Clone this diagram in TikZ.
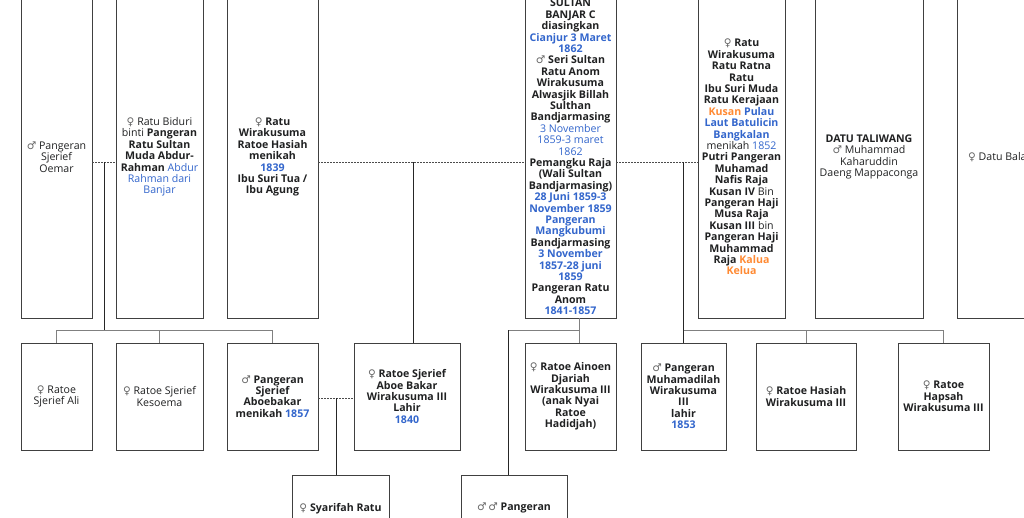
\documentclass[tikz,border=0pt]{standalone}
\usepackage{fontspec}
\setmainfont{Open Sans}
\newfontfamily\symfont{DejaVu Sans}
\usetikzlibrary{calc, positioning}

\definecolor{ink}{HTML}{202122}
\definecolor{linkblue}{HTML}{3366CC}
\definecolor{linkorange}{HTML}{FF8A33}
\newcommand{\gm}{{\symfont\mdseries\color{black!60}♂}}
\newcommand{\gf}{{\symfont\mdseries\color{black!60}♀}}
\newcommand{\lb}[1]{\textcolor{linkblue}{#1}}
\newcommand{\lo}[1]{\textcolor{linkorange}{#1}}

\begin{document}
\begin{tikzpicture}[
        x=1pt, y=-1pt,
        font=\fontsize{10.6}{11.4}\selectfont, text=ink,
        person/.style={draw=black!75, line width=0.8pt, fill=white, rectangle, align=center, inner xsep=1pt, inner ysep=1pt},
        bold/.style={font=\fontsize{10.6}{11.4}\selectfont\bfseries},
        toprow/.style={person, minimum height=322pt},
        midrow/.style={person, minimum height=107pt},
        lowrow/.style={person, minimum height=130pt, anchor=north},
        couple/.style={black!70, line width=0.7pt, dash pattern=on 2pt off 1pt},
        descent/.style={black!85, line width=0.7pt},
        bus/.style={black!50, line width=0.8pt}
    ]
    \useasboundingbox (0,0) rectangle (1024,517);
    \clip (0,0) rectangle (1024,517);

    % Top row (parents and spouses)
    \node[toprow, minimum width=71pt] (oemar) at (56.5,157) {\gm{} Pangeran\\Sjerief\\Oemar};
    \node[toprow, minimum width=87pt] (biduri) at (159.5,157) {\gf{} Ratu Biduri\\binti \textbf{Pangeran}\\\textbf{Ratu Sultan}\\\textbf{Muda Abdur-}\\\textbf{Rahman} \lb{Abdur}\\\lb{Rahman dari}\\\lb{Banjar}};
    \node[toprow, bold, minimum width=91pt] (hasiah) at (272.5,157) {\gf{} Ratu\\Wirakusuma\\Ratoe Hasiah\\menikah\\\lb{1839}\\Ibu Suri Tua /\\Ibu Agung};
    \node[toprow, bold, minimum width=91pt] (sultan) at (570.5,157) {SULTAN\\BANJAR C\\diasingkan\\\lb{Cianjur 3 Maret}\\\lb{1862}\\\gm{} Seri Sultan\\Ratu Anom\\Wirakusuma\\Alwasjik Billah\\Sulthan\\Bandjarmasing\\{\mdseries\lb{3 November}}\\{\mdseries\lb{1859-3 maret}}\\{\mdseries\lb{1862}}\\Pemangku Raja\\(Wali Sultan\\Bandjarmasing)\\\lb{28 Juni 1859-3}\\\lb{November 1859}\\\lb{Pangeran}\\\lb{Mangkubumi}\\Bandjarmasing\\\lb{3 November}\\\lb{1857-28 juni}\\\lb{1859}\\Pangeran Ratu\\Anom\\\lb{1841-1857}};
    \node[toprow, bold, minimum width=87pt] (ratna) at (741.5,157) {\gf{} Ratu\\Wirakusuma\\Ratu Ratna\\Ratu\\Ibu Suri Muda\\Ratu Kerajaan\\\lo{Kusan} \lb{Pulau}\\\lb{Laut Batulicin}\\\lb{Bangkalan}\\{\mdseries menikah \lb{1852}}\\Putri Pangeran\\Muhamad\\Nafis Raja\\Kusan IV {\mdseries Bin}\\Pangeran Haji\\Musa Raja\\Kusan III {\mdseries bin}\\Pangeran Haji\\Muhammad\\Raja \lo{Kalua}\\\lo{Kelua}};
    \node[toprow, minimum width=108pt] (taliwang) at (869,157) {\textbf{DATU TALIWANG}\\\gm{} Muhammad\\Kaharuddin\\Daeng Mappaconga};
    \node[toprow, minimum width=110pt] (balas) at (1012,157) {};
    \node[anchor=west] (balas-t) at ([xshift=8pt]balas.west) {\gf{} Datu Bala};

    % Second row (children)
    \node[midrow, minimum width=71pt] (ali) at (56.5,396.5) {\gf{} Ratoe\\Sjerief Ali};
    \node[midrow, minimum width=87pt] (kesoema) at (159.5,396.5) {\gf{} Ratoe Sjerief\\Kesoema};
    \node[midrow, bold, minimum width=91pt] (aboebakar) at (272.5,396.5) {\gm{} Pangeran\\Sjerief\\Aboebakar\\menikah \lb{1857}};
    \node[midrow, bold, minimum width=106pt] (abubakar) at (407,396.5) {\gf{} Ratoe Sjerief\\Aboe Bakar\\Wirakusuma III\\Lahir\\\lb{1840}};
    \node[midrow, bold, minimum width=91pt] (ainoen) at (570.5,396.5) {\gf{} Ratoe Ainoen\\Djariah\\Wirakusuma III\\(anak Nyai\\Ratoe\\Hadidjah)};
    \node[midrow, bold, minimum width=85pt] (muhamadilah) at (683.5,396.5) {\gm{} Pangeran\\Muhamadilah\\Wirakusuma\\III\\lahir\\\lb{1853}};
    \node[midrow, bold, minimum width=100pt] (hasiah3) at (806,396.5) {\gf{} Ratoe Hasiah\\Wirakusuma III};
    \node[midrow, bold, minimum width=91pt] (hapsah) at (943.5,396.5) {\gf{} Ratoe\\Hapsah\\Wirakusuma III};

    % Third row (grandchildren)
    \node[lowrow, minimum width=97pt] (syarifah) at (340.5,475) {};
    \node[bold, anchor=base] (syarifah-t) at ($(syarifah.north)+(0,36)$) {\gf{} Syarifah Ratu};
    \node[lowrow, minimum width=106pt] (pangeran) at (514,475) {};
    \node[bold, anchor=base] (pangeran-t) at ($(pangeran.north)+(0,35)$) {\gm\,\gm{} Pangeran};

    % Marriages
    \draw[couple] ([yshift=-5pt]oemar.east) -- ([yshift=-5pt]biduri.west);
    \draw[couple] ([yshift=-5pt]hasiah.east) -- ([yshift=-5pt]sultan.west);
    \draw[couple] ([yshift=-5pt]sultan.east) -- ([yshift=-5pt]ratna.west);
    \draw[couple] ([yshift=-1.5pt]aboebakar.east) -- ([yshift=-1.5pt]abubakar.west);

    % Descent lines
    \coordinate (m1) at ($(oemar.east)!0.5!(biduri.west)+(0,5)$);
    \coordinate (bus1) at ($(m1)+(0,168)$);
    \draw[descent] (m1) -- (bus1);
    \draw[bus] (ali.north |- bus1) -- (aboebakar.north |- bus1);
    \foreach \k in {ali, kesoema, aboebakar}
        \draw[bus] (\k.north) -- (\k.north |- bus1);

    \coordinate (m2) at ($(hasiah.east)!0.46!(sultan.west)+(0,5)$);
    \draw[descent] (m2) -- (m2 |- abubakar.north);

    \coordinate (m3) at ($(aboebakar.east)!0.5!(abubakar.west)+(0,1.5)$);
    \draw[descent] (m3) -- (m3 |- syarifah.north);

    \coordinate (s1) at ($(sultan.south)+(8.5,0)$);
    \coordinate (d2) at ($(pangeran.north)+(-6,0)$);
    \draw[bus] (s1) -- (s1 |- ainoen.north);
    \draw[bus] (s1 |- bus1) -- (d2 |- bus1);
    \draw[descent] (d2 |- bus1) -- (d2);

    \coordinate (m4) at (muhamadilah.north |- m1);
    \draw[descent] (m4) -- (muhamadilah.north);
    \draw[bus] (m4 |- bus1) -- (hapsah.north |- bus1);
    \foreach \k in {hasiah3, hapsah}
        \draw[bus] (\k.north) -- (\k.north |- bus1);

\end{tikzpicture}
\end{document}
